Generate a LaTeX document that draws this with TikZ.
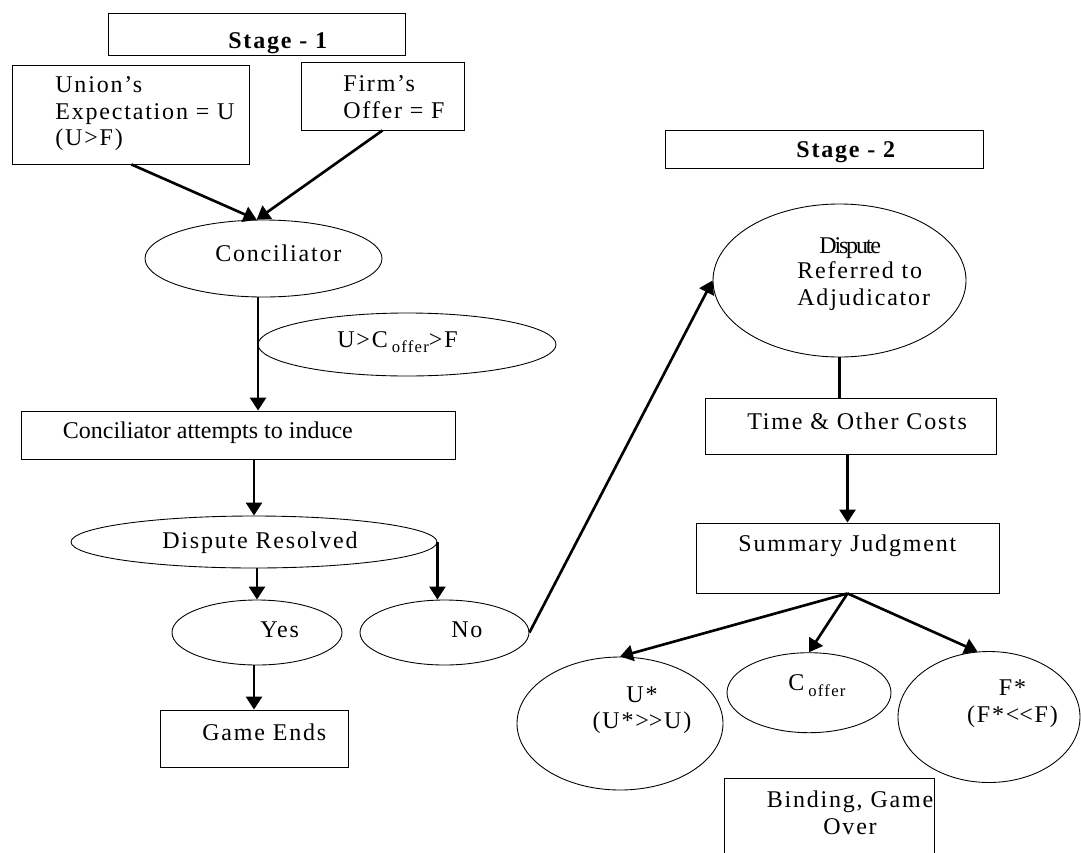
\documentclass[tikz,border=0pt]{standalone}
\usepackage{fontspec}
\setmainfont[LetterSpace=7.5]{Liberation Serif}
\newfontfamily\plainfont{Liberation Serif}
\newfontfamily\tightfont[LetterSpace=-9]{Liberation Serif}
\usetikzlibrary{arrows.meta}
\usetikzlibrary{shapes.geometric}
\tikzset{>={Triangle[length=0.26cm,width=0.32cm]}}
\newcommand\offer{\,\raisebox{-0.5ex}{\fontsize{9.5}{10}\selectfont offer}}
\newcommand\gtgt{>\kern0pt>}
\newcommand\ltlt{<\kern0pt<}

\begin{document}
\begin{tikzpicture}[
    x=0.02cm,y=-0.02cm,
    box/.style 2 args={draw,rectangle,line width=0.5pt,inner sep=0,
      minimum width=#1*\px,minimum height=#2*\px},
    oval/.style 2 args={draw,ellipse,line width=0.5pt,inner sep=0,
      minimum width=#1*\px,minimum height=#2*\px},
    txt/.style={anchor=west,inner sep=0,align=left,
      font=\fontsize{13.66}{15.1}\selectfont},
    ctxt/.style={txt,anchor=center,align=center},
    arr/.style={->,line width=1.5pt},
    link/.style={line width=1.5pt}
  ]

  \def\px{0.02cm}
  \useasboundingbox (0,0) rectangle (1081,852);
  \clip (0,0) rectangle (1081,852);

  % STAGE 1
  \node[box={297}{42}] (stage1) at (256.5,34) {};
  \node[box={237}{99}] (union) at (131.4,114.5) {};
  \node[box={163}{68}] (firm) at (382.5,96) {};
  \node[oval={237}{77}] (conc) at (263.5,258.5) {};
  \node[oval={298}{63}] (cond) at (407,344.5) {};
  \node[box={434}{48}] (induce) at (238,435) {};
  \node[oval={366}{52}] (resolved) at (254,542) {};
  \node[oval={170}{65}] (yes) at (257,632.5) {};
  \node[oval={169}{65}] (no) at (444.5,632.5) {};
  \node[box={188}{57}] (ends) at (254,738.5) {};

  \node[txt,font=\fontsize{13.66}{15.1}\selectfont\bfseries] (stage1txt) at (228,43) {Stage - 1};
  \node[txt] (uniontxt) at (55,114) {Union's\\Expectation = U\\(U>F)};
  \node[txt] (firmtxt) at (343,97) {Firm's\\Offer = F};
  \node[txt] (conctxt) at (215,253.5) {Conciliator};
  \node[txt] (condtxt) at (337,342) {U>C\offer>F};
  \node[txt,font=\fontsize{13.66}{15.1}\selectfont\plainfont] (inducetxt) at (62.5,433) {Conciliator attempts to induce};
  \node[txt] (resolvedtxt) at (162,542.5) {Dispute Resolved};
  \node[txt] (yestxt) at (260,629.5) {Yes};
  \node[txt] (notxt) at (451,629.5) {No};
  \node[txt] (endstxt) at (202,732) {Game Ends};

  % STAGE 2
  \node[box={318}{38}] (stage2) at (824,149) {};
  \node[oval={253}{153}] (referred) at (839.5,280.5) {};
  \node[box={291}{56}] (costs) at (850.8,426) {};
  \node[box={303}{70}] (summary) at (847.5,558) {};
  \node[oval={206}{133}] (ustar) at (620,723.5) {};
  \node[oval={164}{80}] (coffer) at (809,692.7) {};
  \node[oval={182}{131}] (fstar) at (989,717) {};
  \node[box={210}{100}] (binding) at (829,828) {};

  \node[txt,font=\fontsize{13.66}{15.1}\selectfont\bfseries] (stage2txt) at (796,152) {Stage - 2};
  \node[txt,font=\fontsize{13.66}{15.1}\selectfont\tightfont] (disputetxt) at (819,247.7) {Dispute};
  \node[txt] (referredtxt) at (797,286.3) {Referred to\\Adjudicator};
  \node[txt] (coststxt) at (747,420.8) {Time \& Other Costs};
  \node[txt] (summarytxt) at (738,545.8) {Summary Judgment};
  \node[ctxt] (ustartxt) at (642,710) {U*\\(U*\gtgt U)};
  \node[txt] (coffertxt) at (788,685.5) {C\offer};
  \node[ctxt] (fstartxt) at (1012.5,703.8) {F*\\(F*\ltlt F)};
  \node[ctxt] (bindingtxt) at (850,812.8) {Binding, Game\\Over};

  % CONNECTORS
  \draw[arr] (union.south) -- (conc.100);
  \draw[arr] (firm.south) -- (conc.100);
  \draw[arr] (conc.262) -- (conc.262 |- induce.north);
  \draw[arr] (resolved.north |- induce.south) -- (resolved.north);
  \draw[arr] (resolved.south -| yes.north) -- (yes.north);
  \draw[arr] (resolved.east) -- (resolved.east |- no.north);
  \draw[arr] (yes.south -| ends.north) -- (ends.north);
  \draw[arr] (no.east) -- (referred.west);
  \draw[link] (referred.south) -- (referred.south |- costs.north);
  \draw[arr] (summary.north |- costs.south) -- (summary.north);
  \draw[arr] (summary.south) -- (ustar.north);
  \draw[arr] (summary.south) -- (coffer.north);
  \draw[arr] (summary.south) -- (fstar.100);

\end{tikzpicture}
\end{document}
